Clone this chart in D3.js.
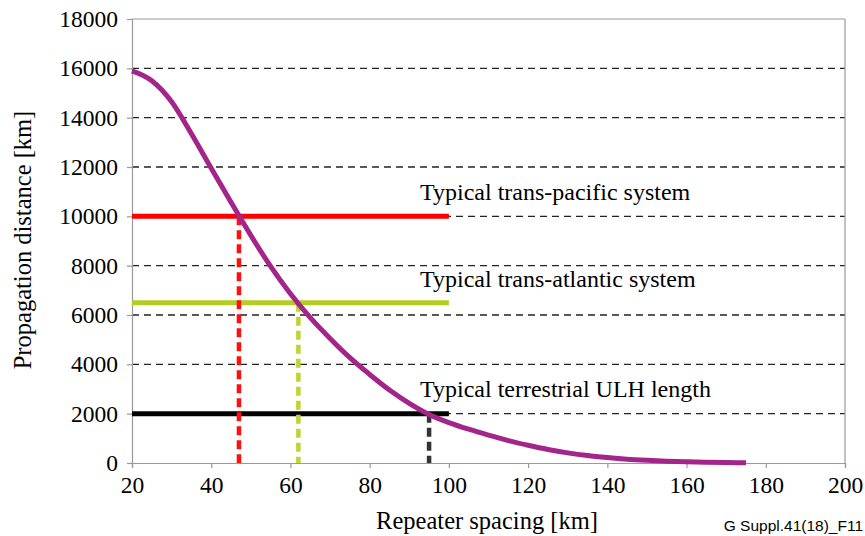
<!DOCTYPE html>
<html>
<head>
<meta charset="utf-8">
<script src="https://cdn.jsdelivr.net/npm/d3@7/dist/d3.min.js"></script>
<style>
html,body{margin:0;padding:0;background:#fff;}
svg{display:block;}
svg text{font-family:"Liberation Serif","Times New Roman","DejaVu Serif",serif;}
svg text.sans{font-family:"Liberation Sans",Arial,"DejaVu Sans",sans-serif;}
</style>
</head>
<body>
<svg id="chart" width="865" height="536"></svg>
<script>
// ---- data ----
const spacing = [20,25,30,35,40,45,50,55,60,65,70,75,80,85,90,95,100,105,110,115,120,125,130,135,140,145,150,155,160,165,170,175];
const distance = [15900,15500,14650,13350,11950,10570,9230,7970,6860,5890,5050,4270,3590,2960,2420,1970,1640,1370,1130,910,720,550,410,300,220,155,110,75,50,32,18,8];
const xTicks = [20,40,60,80,100,120,140,160,180,200];
const yTicks = [0,2000,4000,6000,8000,10000,12000,14000,16000,18000];
const systemNames = ["Typical trans-pacific system","Typical trans-atlantic system","Typical terrestrial ULH length"];
const systemDistance = [10000,6500,2000];
const systemSpacing = [47,62,95];
const systemLineEnd = [100,100,100];
const systemColors = ["#ff0000","#b5cd22","#000000"];
const systemDashColors = ["#ff1010","#bfd42e","#333333"];
const labelY = [10660,7150,2690];

// ---- layout ----
const svg = d3.select("#chart");
const x = d3.scaleLinear().domain([20,200]).range([132,845]);
const y = d3.scaleLinear().domain([0,18000]).range([463,19]);

// gridlines
svg.append("g").selectAll("line").data(yTicks.filter(v=>v>0 && v<18000)).join("line")
  .attr("x1",x(20)).attr("x2",x(200))
  .attr("y1",d=>y(d)).attr("y2",d=>y(d))
  .attr("stroke","#222").attr("stroke-width",1.4).attr("stroke-dasharray","7,5");

// frame top/right
svg.append("line").attr("x1",x(20)).attr("x2",x(200)).attr("y1",y(18000)).attr("y2",y(18000))
  .attr("stroke","#999").attr("stroke-width",1.2);
svg.append("line").attr("x1",x(200)).attr("x2",x(200)).attr("y1",y(18000)).attr("y2",y(0))
  .attr("stroke","#999").attr("stroke-width",1.2);

// axes
const xAxis = svg.append("g").attr("transform",`translate(0,${y(0)})`)
  .call(d3.axisBottom(x).tickValues(xTicks).tickSize(5).tickPadding(8).tickFormat(d3.format("d")));
const yAxis = svg.append("g").attr("transform",`translate(${x(20)},0)`)
  .call(d3.axisLeft(y).tickValues(yTicks).tickSize(5).tickPadding(9).tickFormat(d3.format("d")));
[xAxis,yAxis].forEach(g=>{
  g.attr("font-family",null);
  g.selectAll("path").attr("stroke","#999").attr("stroke-width",1.2);
  g.selectAll("line").attr("stroke","#999").attr("stroke-width",1.2);
  g.selectAll("text").style("font-size","23.5px").attr("fill","#000");
});

// system horizontal lines
svg.append("g").selectAll("line").data(systemDistance).join("line")
  .attr("x1",x(20)).attr("x2",(d,i)=>x(systemLineEnd[i]))
  .attr("y1",d=>y(d)).attr("y2",d=>y(d))
  .attr("stroke",(d,i)=>systemColors[i]).attr("stroke-width",5);

// vertical dashed drop lines
svg.append("g").selectAll("line").data(systemSpacing).join("line")
  .attr("x1",d=>x(d)).attr("x2",d=>x(d))
  .attr("y1",(d,i)=>y(systemDistance[i])).attr("y2",y(0))
  .attr("stroke",(d,i)=>systemDashColors[i]).attr("stroke-width",4.5).attr("stroke-dasharray","9,5");

// curve
const pts = spacing.map((s,i)=>[s,distance[i]]);
svg.append("path").datum(pts)
  .attr("d",d3.line().x(d=>x(d[0])).y(d=>y(d[1])).curve(d3.curveMonotoneX))
  .attr("fill","none").attr("stroke","#a3258a").attr("stroke-width",5).attr("stroke-linecap","butt");

// labels
svg.append("g").selectAll("text").data(systemNames).join("text")
  .attr("x",420).attr("y",(d,i)=>y(labelY[i]))
  .style("font-size","24px").attr("fill","#000")
  .text(d=>d);

// axis titles
svg.append("text").attr("x",487).attr("y",529).attr("text-anchor","middle")
  .style("font-size","24.5px").text("Repeater spacing [km]");
svg.append("text").attr("transform","translate(31,240) rotate(-90)").attr("text-anchor","middle")
  .style("font-size","24.5px").text("Propagation distance [km]");

// footnote
svg.append("text").attr("class","sans").attr("x",863).attr("y",531).attr("text-anchor","end")
  .style("font-size","15.5px").text("G Suppl.41(18)_F11");
</script>
</body>
</html>
